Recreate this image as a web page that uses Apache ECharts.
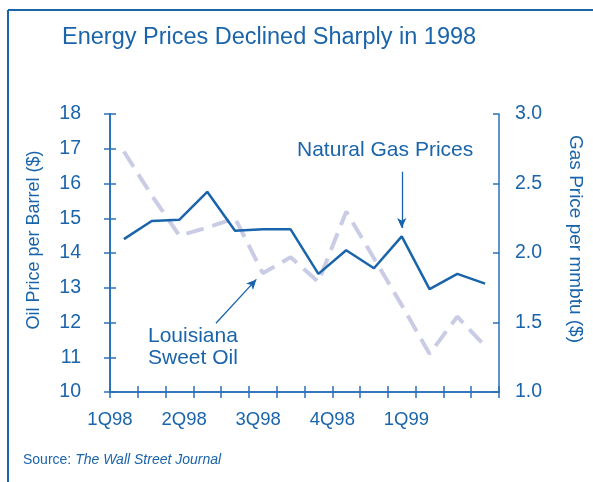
<!DOCTYPE html>
<html>
<head>
<meta charset="utf-8">
<script src="https://cdn.jsdelivr.net/npm/echarts@6/dist/echarts.min.js"></script>
<style>
  html, body { margin: 0; padding: 0; background: #fff; }
  #chart { width: 593px; height: 482px; }
</style>
</head>
<body>
<div id="chart"></div>
<script>
// roughly monthly readings, 1Q98 .. 1Q99
const oilPrices = [16.92, 15.66, 14.5, 14.73, 15.0, 13.42, 13.88, 13.17, 15.19, 13.85, 12.5, 11.1, 12.17, 11.32]
const gasPrices = [2.10, 2.23, 2.24, 2.44, 2.16, 2.17, 2.17, 1.85, 2.02, 1.89, 2.12, 1.74, 1.85, 1.78]
const quarterLabels = ['1Q98', '2Q98', '3Q98', '4Q98', '1Q99']
const oilTicks = [10, 18, 1]
const gasTicks = [1, 3, 0.5]

// x scale: 3 units per reading, 8 units per quarter
const STEP = 3
const QUARTER = 8
const X_MAX = oilPrices.length * STEP

const BLUE = '#1a64ab'
const AXIS = '#2a72b8'
const FONT = "'Liberation Sans', Arial, sans-serif"

const oilData = oilPrices.map((v, i) => [i * STEP + STEP / 2, v])
const gasData = gasPrices.map((v, i) => [i * STEP + STEP / 2, v])

function tickAxis(inside, extra) {
  return Object.assign({
    type: 'value',
    axisLine: { show: true, lineStyle: { color: AXIS, width: 1.5 } },
    axisTick: { show: true, inside: inside, length: 6, lineStyle: { color: AXIS, width: 1.5 } },
    axisLabel: { show: false },
    splitLine: { show: false }
  }, extra)
}

const chart = echarts.init(document.getElementById('chart'))
chart.setOption({
  animation: false,
  textStyle: { fontFamily: FONT },
  title: {
    text: 'Energy Prices Declined Sharply in 1998',
    left: 62,
    top: 26,
    padding: 0,
    textStyle: { color: BLUE, fontSize: 23.5, fontWeight: 'normal', fontFamily: FONT }
  },
  grid: { left: 110, right: 94, top: 114, bottom: 90 },
  xAxis: [
    tickAxis(false, { min: 0, max: X_MAX, interval: STEP, position: 'bottom' }),
    tickAxis(true, { min: 0, max: X_MAX, interval: STEP, position: 'bottom' }),
    {
      type: 'value', min: 0, max: X_MAX, interval: QUARTER, position: 'bottom',
      axisLine: { show: false }, axisTick: { show: false }, splitLine: { show: false },
      axisLabel: {
        show: true, margin: 18, color: BLUE, fontSize: 18.5, fontFamily: FONT,
        showMaxLabel: false,
        formatter: (v) => quarterLabels[Math.round(v / QUARTER)] || ''
      }
    }
  ],
  yAxis: [
    tickAxis(false, {
      min: oilTicks[0], max: oilTicks[1], interval: oilTicks[2], position: 'left',
      axisLabel: { show: true, margin: 29, color: BLUE, fontSize: 19.5, fontFamily: FONT }
    }),
    tickAxis(true, { min: oilTicks[0], max: oilTicks[1], interval: oilTicks[2], position: 'left' }),
    tickAxis(false, {
      min: gasTicks[0], max: gasTicks[1], interval: gasTicks[2], position: 'right',
      axisLabel: { show: true, margin: 16, color: BLUE, fontSize: 19.5, fontFamily: FONT, formatter: (v) => v.toFixed(1) }
    }),
    tickAxis(true, { min: gasTicks[0], max: gasTicks[1], interval: gasTicks[2], position: 'right' })
  ],
  series: [
    {
      name: 'Louisiana Sweet Oil',
      type: 'line',
      xAxisIndex: 0,
      yAxisIndex: 0,
      data: oilData,
      symbol: 'none',
      lineStyle: { color: '#c9cce4', width: 4, type: [18, 9] },
      markLine: {
        silent: true,
        symbol: ['none', 'arrow'],
        symbolSize: [7, 10],
        label: { show: false },
        lineStyle: { color: BLUE, width: 1.3, type: 'solid' },
        data: [[{ coord: [11.44, 11.98] }, { coord: [15.8, 13.24] }]]
      }
    },
    {
      name: 'Natural Gas Prices',
      type: 'line',
      xAxisIndex: 0,
      yAxisIndex: 2,
      data: gasData,
      symbol: 'none',
      lineStyle: { color: BLUE, width: 2.5 },
      markLine: {
        silent: true,
        symbol: ['none', 'arrow'],
        symbolSize: [7, 10],
        label: { show: false },
        lineStyle: { color: BLUE, width: 1.3, type: 'solid' },
        data: [[{ coord: [31.5, 2.585] }, { coord: [31.5, 2.18] }]]
      }
    }
  ],
  graphic: [
    { type: 'line', shape: { x1: 8, y1: 10, x2: 8, y2: 482 }, style: { stroke: BLUE, lineWidth: 2 } },
    { type: 'line', shape: { x1: 8, y1: 10, x2: 593, y2: 10 }, style: { stroke: BLUE, lineWidth: 2 } },
    {
      type: 'text', x: 34, y: 240, rotation: Math.PI / 2,
      style: { text: 'Oil Price per Barrel ($)', fill: BLUE, fontSize: 18, fontFamily: FONT, align: 'center', verticalAlign: 'middle' }
    },
    {
      type: 'text', x: 575, y: 239, rotation: -Math.PI / 2,
      style: { text: 'Gas Price per mmbtu ($)', fill: BLUE, fontSize: 19, fontFamily: FONT, align: 'center', verticalAlign: 'middle' }
    },
    {
      type: 'text', left: 297, top: 140,
      style: { text: 'Natural Gas Prices', fill: BLUE, fontSize: 21, fontFamily: FONT }
    },
    {
      type: 'text', left: 148, top: 325,
      style: { text: 'Louisiana\nSweet Oil', fill: BLUE, fontSize: 21, lineHeight: 22, fontFamily: FONT }
    },
    {
      type: 'text', left: 23, top: 453,
      style: {
        text: '{a|Source: }{b|The Wall Street Journal}',
        rich: {
          a: { fill: BLUE, fontSize: 14, fontFamily: FONT },
          b: { fill: BLUE, fontSize: 14, fontStyle: 'italic', fontFamily: FONT }
        }
      }
    }
  ]
})
</script>
</body>
</html>
